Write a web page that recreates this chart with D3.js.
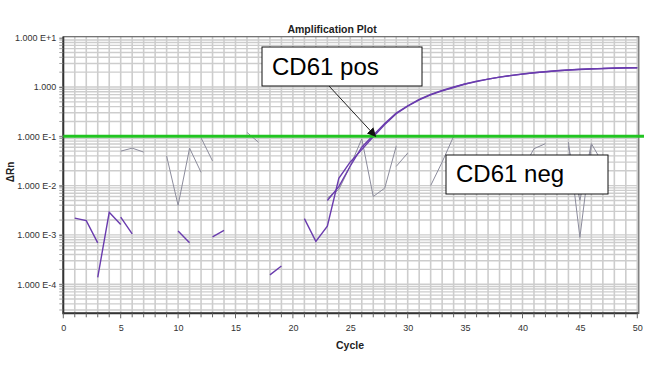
<!DOCTYPE html>
<html><head><meta charset="utf-8">
<script src="https://cdn.jsdelivr.net/npm/d3@7"></script>
<style>body{margin:0;background:#fff}svg{display:block}text{font-family:Arial,"Liberation Sans",sans-serif}</style>
</head><body><svg id="c" width="660" height="381"></svg>
<script>
const cycles = d3.range(1, 51);
const xTicks = [0,5,10,15,20,25,30,35,40,45,50];
const yTickValues = [10, 1, 0.1, 0.01, 0.001, 0.0001];
const yTickLabels = ["1.000 E+1","1.000","1.000 E-1","1.000 E-2","1.000 E-3","1.000 E-4"];
const threshold = 0.1;
// ΔRn values per cycle (null = not plotted, value <= 0)
const posA = [2.19e-3,1.95e-3,6.9e-4,null,2.29e-3,1.05e-3,null,null,null,1.2e-3,
  6.9e-4,null,9.1e-4,1.23e-3,null,null,null,1.55e-4,2.34e-4,null,
  2.14e-3,7.4e-4,1.51e-3,1.41e-2,3.02e-2,5.37e-2,9.77e-2,0.174,0.288,0.407,
  0.550,0.692,0.832,0.977,1.148,1.288,1.445,1.585,1.698,1.820,
  1.950,2.042,2.138,2.213,2.265,2.317,2.371,2.399,2.427,2.455];
const posB = [null,null,1.38e-4,2.88e-3,1.62e-3,null,null,null,null,null,
  null,null,null,null,null,null,null,null,null,null,
  null,null,5.0e-3,9.5e-3,2.5e-2,6.0e-2,0.105,0.182,0.295,0.417,
  0.562,0.708,0.851,1.0,1.148,1.318,1.445,1.585,1.718,1.84,
  1.95,2.042,2.138,2.213,2.291,2.344,2.371,2.427,2.455,2.455];
const negA = [null,null,null,null,5.0e-2,5.75e-2,4.79e-2,null,3.98e-2,3.98e-3,
  5.75e-2,1.86e-2,null,null,null,0.120,7.59e-2,null,null,null,
  null,null,null,null,null,null,null,null,2.45e-2,4.57e-2,
  null,1.0e-2,3.0e-2,0.1,null,null,null,null,2.69e-2,2.14e-2,
  5.6e-2,7.1e-2,null,7.6e-2,8.9e-4,6.6e-2,null,null,null,null];
const negB = [null,null,null,null,null,null,null,null,null,null,
  null,9.3e-2,3.16e-2,null,null,null,null,null,null,null,
  null,null,5.6e-3,8.3e-3,2.51e-2,8.9e-2,6.0e-3,8.9e-3,6.3e-2,null,
  null,null,null,null,null,null,null,null,null,null,
  null,null,null,6.3e-2,5.0e-3,7.1e-2,2.82e-2,null,null,null];

const svg = d3.select("#c");
const L = 63.3, R = 637.3, T = 37.7, B = 313.3;
const x = d3.scaleLinear().domain([0,50]).range([L,R]);
const y = d3.scaleLog().domain([Math.pow(10,-4.59), 10]).range([B,T]);

// grid
const g = svg.append("g");
g.selectAll("line.v").data(d3.range(1,51)).join("line")
  .attr("x1",d=>x(d)).attr("x2",d=>x(d)).attr("y1",T-1).attr("y2",B)
  .attr("stroke","#cdcdcd").attr("stroke-width",1.6);
const hVals = [];
for (let e=-5; e<=0; e++) for (let k=1;k<=9;k++){const v=k*Math.pow(10,e); if(v>=y.domain()[0] && v<=10) hVals.push(v);}
g.selectAll("line.h").data(hVals).join("line")
  .attr("x1",L).attr("x2",R).attr("y1",d=>y(d)).attr("y2",d=>y(d))
  .attr("stroke","#cdcdcd").attr("stroke-width",1.4);

// frame
svg.append("rect").attr("x",L).attr("y",T-1).attr("width",R-L+1.5).attr("height",B-T+1)
  .attr("fill","none").attr("stroke","#666").attr("stroke-width",1.2);
svg.append("line").attr("x1",L).attr("x2",L).attr("y1",T-1).attr("y2",B+1).attr("stroke","#333").attr("stroke-width",2);
svg.append("line").attr("x1",L).attr("x2",R+1).attr("y1",B).attr("y2",B).attr("stroke","#333").attr("stroke-width",2);

// axes
const xAxis = d3.axisBottom(x).tickValues(xTicks).tickSize(0).tickPadding(11);
const xa = svg.append("g").attr("transform",`translate(0,${B})`).call(xAxis);
xa.select(".domain").remove();
xa.selectAll("text").attr("font-size",9).attr("fill","#333").attr("font-family","Arial, Liberation Sans");
svg.append("g").selectAll("line").data(d3.range(0,51)).join("line")
  .attr("x1",d=>x(d)).attr("x2",d=>x(d)).attr("y1",B).attr("y2",d=>B+(d%5===0?5:4))
  .attr("stroke","#666").attr("stroke-width",1);
const yAxis = d3.axisLeft(y).tickValues(yTickValues).tickFormat((d,i)=>yTickLabels[i]).tickSize(4).tickPadding(3);
const ya = svg.append("g").attr("transform",`translate(${L},0)`).call(yAxis);
ya.select(".domain").remove();
ya.selectAll("line").attr("stroke","#666");
ya.selectAll("text").attr("font-size",9).attr("fill","#333").attr("font-family","Arial, Liberation Sans");
svg.append("g").selectAll("line").data(hVals).join("line")
  .attr("x1",L-4).attr("x2",L).attr("y1",d=>y(d)).attr("y2",d=>y(d)).attr("stroke","#888").attr("stroke-width",0.8);

// titles
svg.append("text").attr("x",332).attr("y",33).attr("text-anchor","middle").attr("font-size",10.5).attr("font-weight","bold").attr("fill","#222").text("Amplification Plot");
svg.append("text").attr("x",350).attr("y",349).attr("text-anchor","middle").attr("font-size",10.5).attr("font-weight","bold").attr("fill","#222").text("Cycle");
svg.append("text").attr("transform","translate(14,172) rotate(-90)").attr("text-anchor","middle").attr("font-size",10).attr("font-weight","bold").attr("fill","#222").text("ΔRn");

// lines
const line = d3.line().defined(d=>d.v!=null).x(d=>x(d.c)).y(d=>y(d.v));
function series(arr){return cycles.map((c,i)=>({c, v:arr[i]}));}
const plot = svg.append("g");
[negA,negB].forEach(s=>plot.append("path").datum(series(s)).attr("d",line).attr("fill","none").attr("stroke","#8c8c9c").attr("stroke-width",1));
[posA,posB].forEach(s=>plot.append("path").datum(series(s)).attr("d",line).attr("fill","none").attr("stroke","#6a3cae").attr("stroke-width",1.4));

// threshold
svg.append("line").attr("x1",L).attr("x2",644).attr("y1",y(threshold)).attr("y2",y(threshold)).attr("stroke","#22c422").attr("stroke-width",3);

// annotations
svg.append("defs").append("marker").attr("id","ah").attr("viewBox","0 0 10 10").attr("refX",9).attr("refY",5)
  .attr("markerWidth",9).attr("markerHeight",9).attr("markerUnits","userSpaceOnUse").attr("orient","auto")
  .append("path").attr("d","M0,0 L10,5 L0,10 z").attr("fill","#111");
svg.append("line").attr("x1",329).attr("y1",86).attr("x2",x(27.2)).attr("y2",y(threshold)).attr("stroke","#222").attr("stroke-width",1).attr("marker-end","url(#ah)");
svg.append("rect").attr("x",262).attr("y",47).attr("width",160).attr("height",39).attr("fill","#fff").attr("stroke","#111").attr("stroke-width",1);
svg.append("text").attr("x",272).attr("y",75).attr("font-size",24).attr("fill","#000").text("CD61 pos");
svg.append("rect").attr("x",446).attr("y",155).attr("width",162).attr("height",39).attr("fill","#fff").attr("stroke","#111").attr("stroke-width",1);
svg.append("text").attr("x",456).attr("y",182).attr("font-size",24).attr("fill","#000").text("CD61 neg");
</script></body></html>
